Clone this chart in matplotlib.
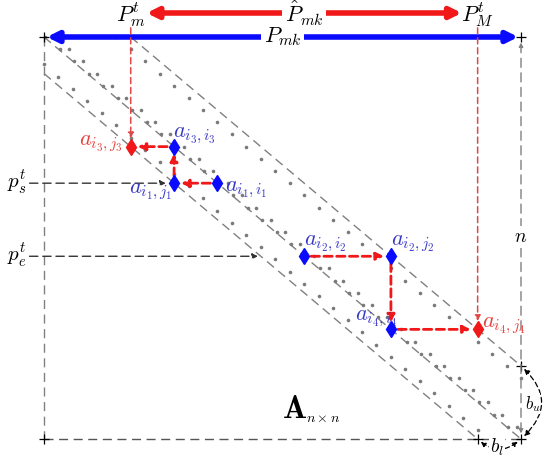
import numpy as np
import matplotlib.pyplot as plt

plt.rcParams['mathtext.fontset'] = 'cm'

# band matrix geometry (matrix index units)
n_size = 33
b_upper = 6
b_lower = 3

# dotted diagonals: start (row, col) of each run of dots
dot_starts = [(0, 0.1), (0, 0.7), (0, 5.0), (2.25, 0)]

# marked entries (row, col)
blue_pts = [(12, 12), (12, 9), (9, 9), (18, 18), (18, 24), (24, 24)]
red_pts = [(9, 6), (24, 30)]

# search paths drawn as red dashed arrows
path_1 = [(12, 12), (12, 9), (9, 9), (9, 6)]
path_2 = [(18, 18), (18, 24), (24, 24), (24, 30)]

# column of P_m^t / P_M^t
p_min_col = 6
p_max_col = 30
# rows of p_s^t / p_e^t and where their arrows stop
ps_row, ps_end = 12, 9
pe_row, pe_end = 18, 14.8

# entry labels: text, (row, col), colour, offset px, ha
entry_labels = [
    (r'$a_{i_3,j_3}$', (9, 6), 'red', (-8, 3), 'right'),
    (r'$a_{i_3,i_3}$', (9, 9), 'blue', (-1, 11), 'left'),
    (r'$a_{i_1,j_1}$', (12, 9), 'blue', (-2, -9), 'right'),
    (r'$a_{i_1,i_1}$', (12, 12), 'blue', (8, -7), 'left'),
    (r'$a_{i_2,i_2}$', (18, 18), 'blue', (0, 12), 'left'),
    (r'$a_{i_2,j_2}$', (18, 24), 'blue', (0, 12), 'left'),
    (r'$a_{i_4,i_4}$', (24, 24), 'blue', (7, 11), 'right'),
    (r'$a_{i_4,j_4}$', (24, 30), 'red', (4, 4), 'left'),
]

GRAY = '#808080'
BLUE = '#0a0aff'
RED = '#f01818'
LBLUE = '#3838c8'
LRED = '#e8403a'

# pixel layout of the figure
W, H = 543, 457
x0_px, y0_px = 44, 37
sx = (521 - 44) / n_size
sy = (439 - 37) / n_size

fig = plt.figure(figsize=(W / 100, H / 100), dpi=100)
ax = fig.add_axes([0, 0, 1, 1])
ax.set_xlim(-x0_px / sx, (W - x0_px) / sx)
ax.set_ylim((H - y0_px) / sy, -y0_px / sy)
ax.axis('off')

N = n_size
dash = (0, (6.5, 4))

# borders (left, bottom)
ax.plot([0, 0], [0, N], ls=dash, color=GRAY, lw=1)
ax.plot([0, N], [N, N], ls=dash, color='#555555', lw=1)
# right border with small arrow heads (n)
ax.annotate('', xy=(N, 0), xytext=(N, N),
            arrowprops=dict(arrowstyle='<|-|>', color=GRAY, lw=1, linestyle=dash,
                            mutation_scale=6, shrinkA=4, shrinkB=4))
ax.text(N, 16.4, r'$n$', fontsize=14, ha='center', va='center',
        bbox=dict(facecolor='white', edgecolor='none', pad=1))

# diagonals
ax.plot([0, N], [0, N], ls=dash, color=GRAY, lw=1)
ax.plot([b_upper, N], [0, N - b_upper], ls=dash, color=GRAY, lw=1)
ax.plot([0, N - b_lower], [b_lower, N], ls=dash, color=GRAY, lw=1)

# dots along diagonals
for r0, c0 in dot_starts:
    t = np.arange(0, N + 1)
    rows = r0 + t
    cols = c0 + t
    keep = (rows <= N) & (cols <= N)
    ax.plot(cols[keep], rows[keep], 'o', color='#7a7a7a', ms=2.6, mew=0)

# corner crosses
cross_cols = [0, N, 0, N - b_lower, N, N]
cross_rows = [0, 0, N, N, N - b_upper, N]
ax.plot(cross_cols, cross_rows, '+', color='black', ms=7, mew=0.9)

# b_u and b_l curved arrows
ax.annotate('', xy=(N, N), xytext=(N, N - b_upper),
            arrowprops=dict(arrowstyle='<|-|>', color='black', lw=0.9, linestyle=(0, (4, 2.5)),
                            connectionstyle='arc3,rad=-0.55', mutation_scale=8,
                            shrinkA=3, shrinkB=3))
ax.text(N + 0.25, 30.1, r'$b_u$', fontsize=12, ha='left', va='center',
        bbox=dict(facecolor='white', edgecolor='none', pad=0.2))
ax.annotate('', xy=(N, N), xytext=(N - b_lower, N),
            arrowprops=dict(arrowstyle='<|-|>', color='black', lw=0.9, linestyle=(0, (4, 2.5)),
                            connectionstyle='arc3,rad=0.45', mutation_scale=7,
                            shrinkA=3, shrinkB=3))
ax.text(N - 1.65, N + 0.7, r'$b_l$', fontsize=14, ha='center', va='center',
        bbox=dict(facecolor='white', edgecolor='none', pad=0.5))

# p_s^t and p_e^t arrows
for lab, row, end in [(r'$p_s^t$', ps_row, ps_end), (r'$p_e^t$', pe_row, pe_end)]:
    ax.annotate('', xy=(end, row), xytext=(-1.0, row),
                arrowprops=dict(arrowstyle='-|>', color='#333333', lw=1, linestyle=(0, (6, 3.5)),
                                mutation_scale=8, shrinkA=0, shrinkB=6 if end == ps_end else 0))
    ax.text(-1.9, row, lab, fontsize=15, ha='center', va='center')

# P_mk blue double arrow
ax.annotate('', xy=(N, 0), xytext=(0, 0),
            arrowprops=dict(arrowstyle='<|-|>', color=BLUE, lw=4, mutation_scale=16,
                            shrinkA=2, shrinkB=2))
ax.text(16.5, 0, r'$P_{mk}$', fontsize=16, ha='center', va='center',
        bbox=dict(facecolor='white', edgecolor='none', pad=2))

# hat P_mk red double arrow
top_row = -1.97
ax.annotate('', xy=(p_max_col - 1.1, top_row), xytext=(p_min_col + 1.1, top_row),
            arrowprops=dict(arrowstyle='<|-|>', color=RED, lw=4, mutation_scale=16,
                            shrinkA=0, shrinkB=0))
ax.text(18.0, top_row, r'$\hat{P}_{mk}$', fontsize=16, ha='center', va='center',
        bbox=dict(facecolor='white', edgecolor='none', pad=2))
ax.text(p_min_col, top_row + 0.15, r'$P_m^t$', fontsize=16, ha='center', va='center')
ax.text(p_max_col, top_row + 0.15, r'$P_M^t$', fontsize=16, ha='center', va='center')

# thin red drop lines from P_m^t / P_M^t
for col, (r, c) in zip([p_min_col, p_max_col], red_pts):
    ax.annotate('', xy=(c, r), xytext=(col, -0.75),
                arrowprops=dict(arrowstyle='-|>', color='#e04848', lw=1.1, linestyle=(0, (4, 2.5)),
                                mutation_scale=8, shrinkA=0, shrinkB=6))

# red dashed search arrows
for path in [path_1, path_2]:
    for (r0, c0), (r1, c1) in zip(path[:-1], path[1:]):
        ax.annotate('', xy=(c1, r1), xytext=(c0, r0),
                    arrowprops=dict(arrowstyle='-|>', color=RED, lw=2, linestyle=(0, (3, 1.6)),
                                    mutation_scale=11, shrinkA=5, shrinkB=5))

# entries
ax.plot([c for r, c in blue_pts], [r for r, c in blue_pts], 'd', color=BLUE, ms=8.5, zorder=5)
ax.plot([c for r, c in red_pts], [r for r, c in red_pts], 'd', color=RED, ms=8.5, zorder=5)

for txt, (r, c), col, (dx, dy), ha in entry_labels:
    ax.annotate(txt, xy=(c, r), xytext=(dx * 0.72, dy * 0.72), textcoords='offset points',
                fontsize=16, ha=ha, va='center', color=LBLUE if col == 'blue' else LRED)

# matrix name
ax.text(17.35, 30.6, r'$\mathbf{A}$', fontsize=23, ha='center', va='center')
ax.text(16.8 + 1.3, 31.3, r'$n\times n$', fontsize=10, ha='left', va='center')

fig.savefig('out.png', dpi=100)
